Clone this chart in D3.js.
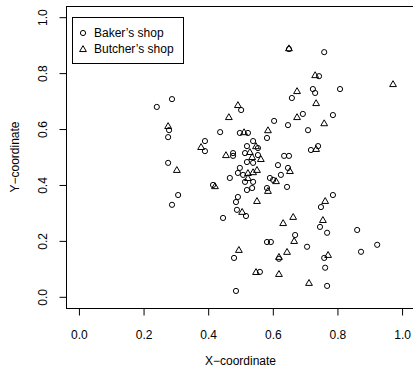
<!DOCTYPE html>
<html>
<head>
<meta charset="utf-8">
<script src="https://cdn.jsdelivr.net/npm/d3@7"></script>
<style>
  body { margin: 0; background: #fff; }
  text { font-family: "Liberation Sans", Arial, sans-serif; font-size: 12px; fill: #000; }
</style>
</head>
<body>
<div id="chart"></div>
<script>
var bakerX = [0.241, 0.288, 0.279, 0.276, 0.276, 0.307, 0.288, 0.502, 0.650, 0.659,
              0.759, 0.743, 0.724, 0.731, 0.808, 0.604, 0.647, 0.693, 0.786, 0.709,
              0.437, 0.498, 0.523, 0.582, 0.390, 0.390, 0.477, 0.477, 0.539, 0.520,
              0.554, 0.514, 0.554, 0.520, 0.539, 0.635, 0.650, 0.718, 0.740, 0.616,
              0.647, 0.498, 0.492, 0.508, 0.467, 0.514, 0.539, 0.591, 0.601, 0.625,
              0.536, 0.520, 0.582, 0.644, 0.415, 0.492, 0.486, 0.489, 0.517, 0.446,
              0.786, 0.749, 0.746, 0.768, 0.861, 0.669, 0.706, 0.923, 0.873, 0.759,
              0.762, 0.768, 0.582, 0.594, 0.480, 0.560, 0.619, 0.486];
var bakerY = [0.679, 0.707, 0.596, 0.571, 0.479, 0.364, 0.329, 0.668, 0.886, 0.711,
              0.875, 0.789, 0.743, 0.729, 0.743, 0.629, 0.614, 0.654, 0.650, 0.596,
              0.589, 0.586, 0.586, 0.568, 0.557, 0.521, 0.514, 0.504, 0.557, 0.539,
              0.532, 0.514, 0.507, 0.482, 0.479, 0.504, 0.504, 0.525, 0.539, 0.471,
              0.461, 0.461, 0.443, 0.436, 0.425, 0.411, 0.411, 0.425, 0.418, 0.436,
              0.389, 0.382, 0.389, 0.393, 0.400, 0.357, 0.339, 0.311, 0.289, 0.282,
              0.364, 0.321, 0.250, 0.229, 0.239, 0.221, 0.179, 0.186, 0.161, 0.139,
              0.104, 0.039, 0.196, 0.196, 0.139, 0.089, 0.136, 0.021];

var butcherX = [0.650, 0.675, 0.731, 0.972, 0.734, 0.492, 0.464, 0.675, 0.759, 0.276,
                0.303, 0.511, 0.585, 0.378, 0.455, 0.548, 0.529, 0.536, 0.563, 0.734,
                0.653, 0.523, 0.539, 0.551, 0.523, 0.610, 0.585, 0.421, 0.551, 0.762,
                0.505, 0.663, 0.755, 0.632, 0.666, 0.495, 0.644, 0.619, 0.771, 0.548,
                0.619, 0.712];
var butcherY = [0.889, 0.736, 0.793, 0.761, 0.693, 0.686, 0.643, 0.643, 0.621, 0.611,
                0.454, 0.589, 0.596, 0.536, 0.507, 0.539, 0.518, 0.500, 0.493, 0.529,
                0.450, 0.443, 0.446, 0.454, 0.425, 0.414, 0.379, 0.396, 0.343, 0.343,
                0.304, 0.286, 0.275, 0.264, 0.200, 0.168, 0.161, 0.143, 0.150, 0.089,
                0.082, 0.050];

var tickValues = [0, 0.2, 0.4, 0.6, 0.8, 1.0];
var legendLabels = ["Baker\u2019s shop", "Butcher\u2019s shop"];

function init() {
  var w = 413, h = 368;
  var plotLeft = 66, plotRight = 415, plotTop = 6, plotBottom = 308;

  var x = d3.scaleLinear().domain([-0.04, 1.04]).range([plotLeft, plotRight]);
  var y = d3.scaleLinear().domain([-0.04, 1.04]).range([plotBottom, plotTop]);

  var svg = d3.select("#chart").append("svg")
      .attr("width", w).attr("height", h);

  // plot box
  svg.append("rect")
      .attr("x", plotLeft + 0.5).attr("y", plotTop + 0.5)
      .attr("width", plotRight - plotLeft).attr("height", plotBottom - plotTop)
      .attr("fill", "none").attr("stroke", "#000");

  var fmt = d3.format(".1f");

  var xAxis = svg.append("g")
      .attr("transform", "translate(0," + (plotBottom + 0.5) + ")")
      .call(d3.axisBottom(x).tickValues(tickValues).tickFormat(fmt).tickSize(7).tickPadding(15));
  xAxis.select(".domain").remove();
  xAxis.selectAll("text").style("font-size", "12px");

  var yAxis = svg.append("g")
      .attr("transform", "translate(" + (plotLeft + 0.5) + ",0)")
      .call(d3.axisLeft(y).tickValues(tickValues).tickFormat(fmt).tickSize(7));
  yAxis.select(".domain").remove();
  yAxis.selectAll(".tick text")
      .attr("x", null).attr("dy", "0.35em")
      .attr("text-anchor", "middle")
      .attr("transform", "translate(-24,0) rotate(-90)")
      .style("font-size", "12px");

  svg.append("text")
      .attr("x", (plotLeft + plotRight) / 2).attr("y", 365)
      .attr("text-anchor", "middle")
      .text("X\u2212coordinate");

  svg.append("text")
      .attr("transform", "translate(19," + ((plotTop + plotBottom) / 2) + ") rotate(-90)")
      .attr("text-anchor", "middle")
      .text("Y\u2212coordinate");

  var tri = d3.symbol().type(d3.symbolTriangle).size(20);

  svg.append("g").selectAll("circle")
      .data(d3.range(bakerX.length))
      .enter().append("circle")
      .attr("cx", function(i) { return x(bakerX[i]); })
      .attr("cy", function(i) { return y(bakerY[i]); })
      .attr("r", 2.6)
      .attr("fill", "none").attr("stroke", "#000").attr("stroke-width", 1);

  svg.append("g").selectAll("path")
      .data(d3.range(butcherX.length))
      .enter().append("path")
      .attr("d", tri)
      .attr("transform", function(i) {
        return "translate(" + x(butcherX[i]) + "," + (y(butcherY[i]) + 0.6) + ")";
      })
      .attr("fill", "none").attr("stroke", "#000").attr("stroke-width", 1);

  // legend
  var lg = svg.append("g");
  lg.append("rect")
      .attr("x", 72.5).attr("y", 17.5).attr("width", 111).attr("height", 46)
      .attr("fill", "#fff").attr("stroke", "#000");
  lg.append("circle")
      .attr("cx", 83).attr("cy", 33).attr("r", 2.6)
      .attr("fill", "none").attr("stroke", "#000").attr("stroke-width", 1);
  lg.append("path")
      .attr("d", tri).attr("transform", "translate(83,49.6)")
      .attr("fill", "none").attr("stroke", "#000").attr("stroke-width", 1);
  lg.selectAll("text.lab")
      .data(legendLabels)
      .enter().append("text")
      .attr("class", "lab")
      .attr("x", 94)
      .attr("y", function(d, i) { return 37 + i * 16; })
      .text(function(d) { return d; });
}

window.onload = init;
</script>
</body>
</html>
